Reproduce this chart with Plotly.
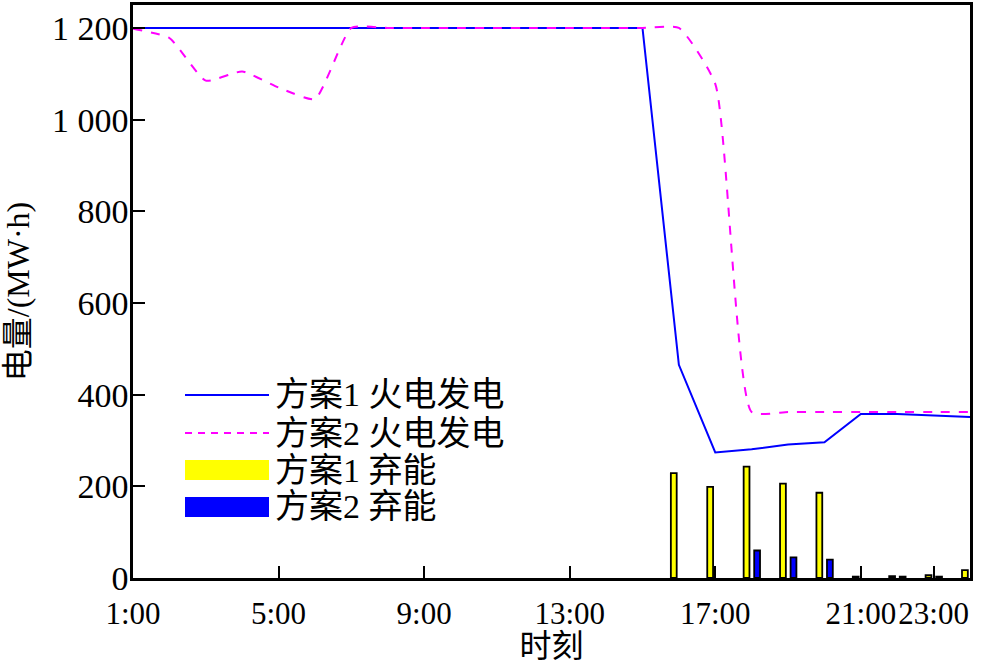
import plotly.graph_objects as go

# ---- data ----
hours = list(range(1, 25))
scheme1_thermal = [1200, 1200, 1200, 1200, 1200, 1200, 1200, 1200, 1200, 1200,
                   1200, 1200, 1200, 1200, 1200, 465, 274, 281, 291, 296,
                   358, 358, 354, 351]
scheme2_thermal = [1198, 1178, 1085, 1105, 1070, 1045, 1200, 1200, 1200, 1200,
                   1200, 1200, 1200, 1200, 1200, 1200, 1078, 362, 362, 362,
                   362, 362, 362, 362]
scheme1_curtail = [0, 0, 0, 0, 0, 0, 0, 0, 0, 0,
                   0, 0, 0, 0, 0, 229, 199, 243, 206, 186,
                   3, 4, 6, 17]
scheme2_curtail = [0, 0, 0, 0, 0, 0, 0, 0, 0, 0,
                   0, 0, 0, 0, 0, 0, 0, 60, 45, 40,
                   0, 3, 3, 0]
x_tickvals = [1, 5, 9, 13, 17, 21, 23]
x_ticktext = ["1:00", "5:00", "9:00", "13:00", "17:00", "21:00", "23:00"]
y_tickvals = [0, 200, 400, 600, 800, 1000, 1200]
y_ticktext = ["0", "200", "400", "600", "800", "1 000", "1 200"]
legend_names = ["方案1 火电发电", "方案2 火电发电", "方案1 弃能", "方案2 弃能"]

FONT = "Liberation Serif, Times New Roman, Noto Sans CJK SC, serif"
W, H = 1000, 664
L, R, T, B = 133, 30, 5, 86


def nonzero(xs, ys):
    pairs = [(a, b) for a, b in zip(xs, ys) if b > 0]
    return [p[0] for p in pairs], [p[1] for p in pairs]


fig = go.Figure()
bx1, by1 = nonzero(hours, scheme1_curtail)
bx2, by2 = nonzero(hours, scheme2_curtail)
fig.add_trace(go.Bar(x=bx1, y=by1, offset=-0.22, width=0.16,
                     marker=dict(color="#ffff00", line=dict(color="black", width=1.8)),
                     name=legend_names[2], showlegend=False))
fig.add_trace(go.Bar(x=bx2, y=by2, offset=0.07, width=0.16,
                     marker=dict(color="#0000ff", line=dict(color="black", width=1.8)),
                     name=legend_names[3], showlegend=False))
fig.add_trace(go.Scatter(x=hours, y=scheme1_thermal, mode="lines",
                         line=dict(color="#0000ff", width=2),
                         name=legend_names[0], showlegend=False))
fig.add_trace(go.Scatter(x=hours, y=scheme2_thermal, mode="lines",
                         line=dict(color="#ff00ff", width=2, dash="9px,9px",
                                   shape="spline", smoothing=0.5),
                         name=legend_names[1], showlegend=False))

# ---- manual legend (pixel positions converted to paper coords) ----
pw = W - L - R
ph = H - T - B


def px(xp):
    return (xp - L) / pw


def py(yp):
    return (H - B - yp) / ph


shapes = [
    dict(type="line", xref="paper", yref="paper", x0=px(185), x1=px(269),
         y0=py(395), y1=py(395), line=dict(color="#0000ff", width=2)),
    dict(type="line", xref="paper", yref="paper", x0=px(185), x1=px(269),
         y0=py(433), y1=py(433), line=dict(color="#ff00ff", width=2, dash="7px,6px")),
    dict(type="rect", xref="paper", yref="paper", x0=px(185), x1=px(269),
         y0=py(480), y1=py(460), line=dict(width=0), fillcolor="#ffff00"),
    dict(type="rect", xref="paper", yref="paper", x0=px(185), x1=px(269),
         y0=py(517), y1=py(497), line=dict(width=0), fillcolor="#0000ff"),
]
annotations = []
for name, yc in zip(legend_names, [395, 433, 470, 506]):
    annotations.append(dict(xref="paper", yref="paper", x=px(273), y=py(yc),
                            text=name, showarrow=False, xanchor="left", yanchor="middle",
                            font=dict(family=FONT, size=34, color="black")))

fig.update_layout(
    width=W, height=H,
    margin=dict(l=L, r=R, t=T, b=B),
    paper_bgcolor="white", plot_bgcolor="white",
    barmode="overlay",
    font=dict(family=FONT, size=32, color="black"),
    shapes=shapes, annotations=annotations,
    showlegend=False,
    xaxis=dict(range=[1, 24], tickvals=x_tickvals, ticktext=x_ticktext,
               ticks="inside", ticklen=12, tickwidth=2, tickcolor="black",
               tickangle=0, ticklabelstandoff=6, automargin=False,
               showline=True, linecolor="black", linewidth=2.5, mirror=True,
               showgrid=False, zeroline=False,
               title=dict(text="时刻", font=dict(family=FONT, size=32)),
               tickfont=dict(family=FONT, size=31)),
    yaxis=dict(range=[0, 1250], tickvals=y_tickvals, ticktext=y_ticktext,
               ticks="inside", ticklen=12, tickwidth=2, tickcolor="black",
               ticklabelstandoff=-5, automargin=False,
               showline=True, linecolor="black", linewidth=2.5, mirror=True,
               showgrid=False, zeroline=False,
               title=dict(text="电量/(MW·h)", font=dict(family=FONT, size=32)),
               tickfont=dict(family=FONT, size=34)),
)

fig.write_html("out.html", config={"displayModeBar": False},
               post_script="document.body.style.margin='0';document.body.style.padding='0';")
